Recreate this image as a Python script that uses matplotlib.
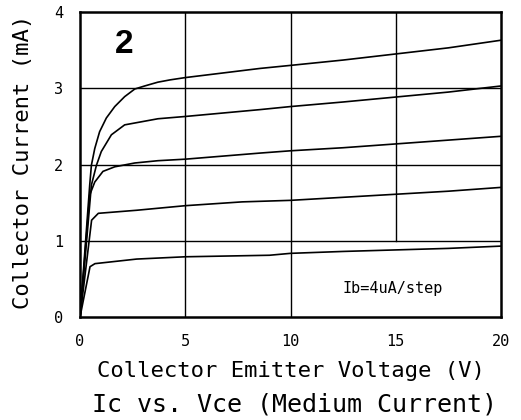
import matplotlib
matplotlib.use('Agg')
import matplotlib.pyplot as plt

# ── Data: Ic (mA) vs Vce (V), five base-current steps (Ib = 4uA/step) ─────────
vce_1 = [0, 0.46, 0.54, 0.70, 0.93, 1.25, 1.65, 2.12, 2.60, 3.07, 3.7, 4.28, 5, 8.55, 10, 12.5, 15, 17.5, 20]
ic_1  = [0, 1.73, 1.99, 2.21, 2.43, 2.61, 2.76, 2.89, 2.99, 3.03, 3.08, 3.11, 3.14, 3.26, 3.30, 3.37, 3.45, 3.53, 3.63]

vce_2 = [0, 0.54, 0.78, 1.01, 1.49, 2.12, 2.91, 3.7, 5, 8.55, 10, 12.5, 15, 17.5, 20]
ic_2  = [0, 1.73, 1.99, 2.17, 2.39, 2.52, 2.56, 2.60, 2.63, 2.72, 2.76, 2.82, 2.885, 2.95, 3.03]

vce_3 = [0, 0.46, 0.70, 1.09, 1.65, 2.60, 3.7, 5, 8.55, 10, 12.5, 15, 17.5, 20]
ic_3  = [0, 1.60, 1.77, 1.91, 1.97, 2.02, 2.05, 2.07, 2.15, 2.18, 2.22, 2.27, 2.32, 2.37]

vce_4 = [0, 0.55, 0.87, 2.69, 5, 7.7, 10, 12.5, 15, 17.5, 20]
ic_4  = [0, 1.27, 1.36, 1.40, 1.46, 1.51, 1.53, 1.57, 1.61, 1.65, 1.70]

vce_5 = [0, 0.475, 0.71, 2.69, 5, 9, 10, 12.5, 15, 17.5, 20]
ic_5  = [0, 0.66, 0.70, 0.76, 0.79, 0.81, 0.835, 0.86, 0.88, 0.90, 0.93]

curves = [(vce_1, ic_1), (vce_2, ic_2), (vce_3, ic_3), (vce_4, ic_4), (vce_5, ic_5)]

x_ticks = [0, 5, 10, 15, 20]
y_ticks = [0, 1, 2, 3, 4]

# thin, wide lettering of the original is closest to a mono face
plt.rcParams['font.family'] = ['DejaVu Sans Mono']

fig = plt.figure(figsize=(5.21, 4.20), dpi=100)
ax = fig.add_axes([0.1536, 0.2452, 0.808, 0.7262])

# grid (the 15 V line stops above the note box)
for xv in [5, 10]:
    ax.axvline(xv, color='black', linewidth=1.0, zorder=1)
ax.axvline(15, ymin=0.25, ymax=1, color='black', linewidth=1.0, zorder=1)
for yv in [1, 2, 3]:
    ax.axhline(yv, color='black', linewidth=1.0, zorder=1)

for vce, ic in curves:
    ax.plot(vce, ic, color='black', linewidth=1.2, zorder=2)

ax.set_xlim(0, 20)
ax.set_ylim(0, 4)
ax.set_xticks(x_ticks)
ax.set_yticks(y_ticks)
ax.tick_params(length=0, labelsize=11, pad=12)
for sp in ax.spines.values():
    sp.set_linewidth(1.8)

ax.set_xlabel('Collector Emitter Voltage (V)', fontsize=16, labelpad=9)
ax.set_ylabel('Collector Current (mA)', fontsize=16)
ax.yaxis.set_label_coords(-0.112, 0.51)

ax.text(2.09, 3.57, '2', fontsize=24, fontweight='bold', family='Liberation Sans',
        ha='center', va='center')
ax.text(14.87, 0.38, 'Ib=4uA/step', fontsize=11, ha='center', va='center')

fig.text(0.566, 0.038, 'Ic vs. Vce (Medium Current)', fontsize=18, ha='center', va='center')

plt.savefig('out.png', dpi=100)
